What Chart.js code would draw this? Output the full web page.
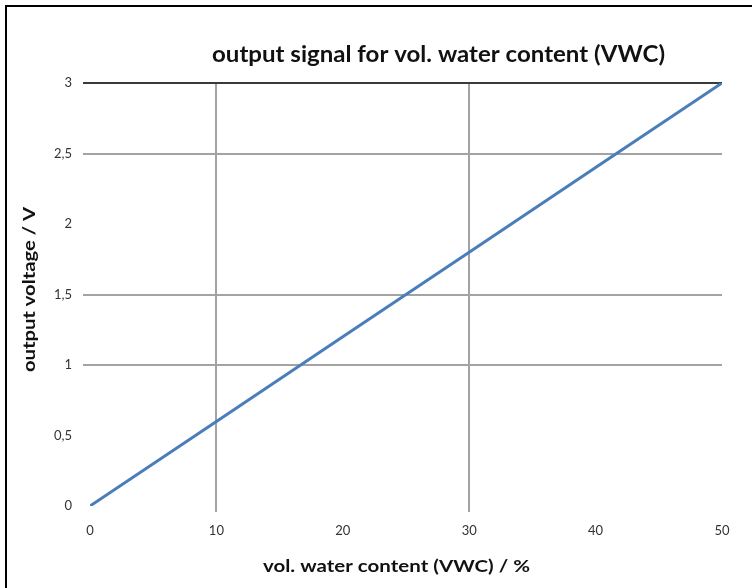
<!DOCTYPE html>
<html>
<head>
<meta charset="utf-8">
<script src="https://cdn.jsdelivr.net/npm/chart.js@4/dist/chart.umd.min.js"></script>
<style>
  html, body { margin: 0; padding: 0; background: #fff; }
  #c { display: block; }
</style>
</head>
<body>
<canvas id="c" width="752" height="588"></canvas>
<script>
// ---- data ----
const vwcPercent = [0, 10, 20, 30, 40, 50];
const outputVoltage = [0, 0.6, 1.2, 1.8, 2.4, 3.0];
const xTickLabels = ['0', '10', '20', '30', '40', '50'];
const yTickLabels = ['0', '0,5', '1', '1,5', '2', '2,5', '3'];
const chartTitle = 'output signal for vol. water content (VWC)';
const xAxisTitle = 'vol. water content (VWC) / %';
const yAxisTitle = 'output voltage / V';
// gridlines visible in the reference
const visibleXGrid = [10, 30];
const visibleYGrid = [1, 1.5, 2.5, 3];

const FONT = 'Lato, "Open Sans", sans-serif';

// draw bold text of given size, stretched along its direction to span `width`
function drawText(ctx, text, size, width, x, y, angle) {
  ctx.save();
  ctx.font = 'bold ' + size + 'px ' + FONT;
  const w = ctx.measureText(text).width;
  ctx.translate(x, y);
  ctx.rotate(angle || 0);
  ctx.scale(width / w, 1);
  ctx.fillText(text, 0, 0);
  ctx.restore();
}

const decor = {
  id: 'decor',
  beforeDraw(chart) {
    const ctx = chart.ctx;
    ctx.save();
    ctx.fillStyle = '#fff';
    ctx.fillRect(0, 0, chart.width, chart.height);
    ctx.restore();
  },
  afterDraw(chart) {
    const ctx = chart.ctx;
    ctx.save();
    // frame (left + top)
    ctx.strokeStyle = '#000';
    ctx.lineWidth = 2;
    ctx.beginPath();
    ctx.moveTo(6, chart.height);
    ctx.lineTo(6, 6);
    ctx.lineTo(chart.width, 6);
    ctx.stroke();
    // titles
    ctx.fillStyle = '#111';
    ctx.textAlign = 'center';
    ctx.textBaseline = 'middle';
    drawText(ctx, chartTitle, 22, 453, 438.5, 55, 0);
    drawText(ctx, xAxisTitle, 17, 267, 396.5, 567, 0);
    drawText(ctx, yAxisTitle, 17, 165, 30, 289.5, -Math.PI / 2);
    ctx.restore();
  }
};

new Chart(document.getElementById('c'), {
  type: 'line',
  data: {
    datasets: [{
      data: vwcPercent.map((x, i) => ({ x: x, y: outputVoltage[i] })),
      borderColor: '#4a7ebb',
      borderWidth: 3,
      pointRadius: 0,
      tension: 0,
      fill: false
    }]
  },
  options: {
    responsive: false,
    animation: false,
    devicePixelRatio: 1,
    layout: { padding: { top: 83, right: 30, left: 0, bottom: 0 } },
    plugins: { legend: { display: false }, title: { display: false }, tooltip: { enabled: false } },
    scales: {
      x: {
        type: 'linear',
        min: 0, max: 50,
        afterFit(s) { s.height = 82; },
        border: { display: false },
        grid: {
          color: c => (c.tick && visibleXGrid.includes(c.tick.value)) ? '#a3a3a3' : 'rgba(0,0,0,0)',
          lineWidth: 2,
          tickLength: 6
        },
        ticks: {
          stepSize: 10,
          padding: 11,
          color: '#333',
          font: { family: FONT, size: 13 },
          maxRotation: 0,
          callback: (v, i) => xTickLabels[i]
        }
      },
      y: {
        type: 'linear',
        min: 0, max: 3,
        afterFit(s) { s.width = 90; },
        border: { display: false },
        grid: {
          color: c => {
            if (!c.tick) return 'rgba(0,0,0,0)';
            if (c.tick.value === 3) return '#3a3a3a';
            return visibleYGrid.includes(c.tick.value) ? '#a3a3a3' : 'rgba(0,0,0,0)';
          },
          lineWidth: 2,
          tickLength: 7
        },
        ticks: {
          stepSize: 0.5,
          padding: 11,
          color: '#333',
          font: { family: FONT, size: 13 },
          callback: (v, i) => yTickLabels[i]
        }
      }
    }
  },
  plugins: [decor]
});
</script>
</body>
</html>
